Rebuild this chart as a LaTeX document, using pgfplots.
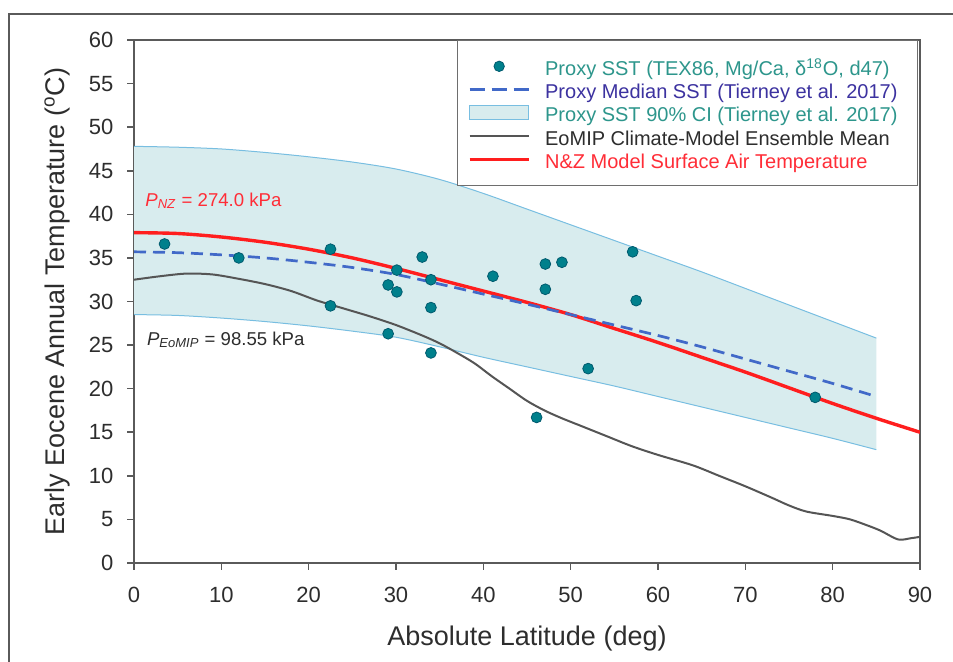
\documentclass[border=0pt]{standalone}
\usepackage{fontspec}
\setmainfont{Liberation Sans}
\usepackage{pgfplots}
\pgfplotsset{compat=1.18}
\usepgfplotslibrary{fillbetween}

\definecolor{nzred}{RGB}{255,30,30}
\definecolor{medblue}{RGB}{65,105,200}
\definecolor{eogray}{RGB}{85,85,85}
\definecolor{bandfill}{RGB}{216,236,238}
\definecolor{bandedge}{RGB}{120,190,225}
\definecolor{dotfill}{RGB}{0,128,140}
\definecolor{dotdraw}{RGB}{0,90,110}
\definecolor{axisgray}{RGB}{90,90,90}
\definecolor{labelgray}{RGB}{45,45,45}
\definecolor{txtteal}{RGB}{45,150,140}
\definecolor{txtblue}{RGB}{60,50,160}
\definecolor{txtgray}{RGB}{45,45,45}
\definecolor{txtred}{RGB}{255,45,55}

\begin{document}
\begin{tikzpicture}
\begin{axis}[
  name=ax, at={(0,0)}, anchor=south west,
  scale only axis, width=393pt, height=261.5pt,
  xmin=0, xmax=90, ymin=0, ymax=60,
  xtick={0,10,...,90}, ytick={0,5,...,60},
  tick align=outside, tick pos=left,
  major tick length=3.5pt,
  every tick/.style={axisgray, line width=0.8pt},
  axis line style={axisgray, line width=1pt},
  /pgf/number format/assume math mode=true,
  ticklabel style={font=\fontsize{11}{13}\selectfont, text=labelgray},
  xticklabel style={yshift=-4.8pt},
  yticklabel style={xshift=-3.3pt},
  xlabel={Absolute Latitude (deg)},
  ylabel={Early Eocene Annual Temperature (\textsuperscript{o}C)},
  xlabel style={at={(axis description cs:0.5,0)}, anchor=base, yshift=-41.5pt, font=\fontsize{13.5}{16}\selectfont, text=labelgray},
  ylabel style={at={(axis description cs:-0.0878,0.5)}, anchor=base, font=\fontsize{13.5}{16}\selectfont, text=labelgray},
  legend cell align=left,
  legend style={at={(axis description cs:0.9975,1)}, anchor=north east,
    draw={rgb,255:red,110;green,110;blue,110}, line width=0.5pt, fill=white,
    font=\fontsize{10}{11.67}\selectfont,
    inner xsep=5.5pt, inner ysep=7.9pt, row sep=1.67pt,
    nodes={inner xsep=0pt, inner ysep=0pt, text height=9.5pt, text depth=0.5pt}},
]
% legend images (order as in reference)
\addlegendimage{legend image code/.code={\draw[dotdraw, fill=dotfill, line width=0.4pt] (14.75pt,0pt) circle (2.6pt); \path (0pt,0pt) (37.5pt,0pt);}}
\addlegendentry{\textcolor{txtteal}{Proxy SST (TEX86, Mg/Ca, δ\textsuperscript{18}O, d47)}}
\addlegendimage{legend image code/.code={\draw[medblue, line width=1.35pt, dash pattern=on 7.5pt off 3.5pt] (0pt,0pt) -- (29.5pt,0pt); \path (37.5pt,0pt);}}
\addlegendentry{\textcolor{txtblue}{Proxy Median SST (Tierney et al. 2017)}\rule{4.5pt}{0pt}}
\addlegendimage{legend image code/.code={\draw[bandedge, fill=bandfill, line width=0.5pt] (0pt,-3.5pt) rectangle (29.5pt,3.5pt); \path (37.5pt,0pt);}}
\addlegendentry{\textcolor{txtteal}{Proxy SST 90\% CI (Tierney et al. 2017)}}
\addlegendimage{legend image code/.code={\draw[eogray, line width=1pt] (0pt,0pt) -- (29.5pt,0pt); \path (37.5pt,0pt);}}
\addlegendentry{\textcolor{txtgray}{EoMIP Climate-Model Ensemble Mean}}
\addlegendimage{legend image code/.code={\draw[nzred, line width=1.65pt] (0pt,0pt) -- (29.5pt,0pt); \path (37.5pt,0pt);}}
\addlegendentry{\textcolor{txtred}{N\&Z Model Surface Air Temperature}}

% 90% CI band (Tierney et al. 2017)
\addplot[name path=upper, bandedge, line width=0.5pt, smooth, forget plot] coordinates {
(0,47.8) (5,47.7) (10,47.5) (15,47.1) (20,46.6) (25,46.0) (30,45.2) (35,44.0)
(40,42.4) (45,40.6) (50,38.8) (55,37.0) (60,35.2) (65,33.4) (70,31.5) (75,29.6)
(80,27.7) (85,25.8)};
\addplot[name path=lower, bandedge, line width=0.5pt, smooth, forget plot] coordinates {
(0,28.5) (5,28.4) (10,28.1) (15,27.7) (20,27.2) (25,26.6) (30,25.9) (35,24.8)
(40,23.6) (45,22.5) (50,21.4) (55,20.3) (60,19.1) (65,17.9) (70,16.7) (75,15.5)
(80,14.3) (85,13.0)};
\addplot[fill=bandfill, draw=none, forget plot] fill between[of=upper and lower];

% EoMIP ensemble mean
\addplot[eogray, line width=1pt, smooth, forget plot] coordinates {
(0,32.5) (3,32.9) (6,33.2) (9,33.1) (12,32.6) (15,32.0) (18,31.2) (21,30.1)
(24,29.2) (27,28.3) (30,27.3) (33,26.1) (35,25.2) (37,24.1) (39,22.9) (41,21.4)
(43,20.0) (45,18.6) (47,17.5) (49,16.6) (51,15.8) (54,14.6) (57,13.4) (60,12.4)
(64,11.2) (67,10.0) (70,8.8) (73,7.5) (75,6.6) (77,5.9) (80,5.4) (82,5.0)
(84,4.3) (85.5,3.7) (87.5,2.7) (89,2.85) (90,3.0)};

% N&Z model
\addplot[nzred, line width=1.7pt, smooth, forget plot] coordinates {
(0,37.9) (5,37.8) (10,37.4) (15,36.8) (20,36.0) (25,35.0) (30,33.8) (35,32.5)
(40,31.2) (45,29.9) (50,28.5) (55,26.9) (60,25.3) (65,23.6) (70,21.9) (75,20.1)
(80,18.3) (85,16.6) (90,15.0)};

% Proxy median SST
\addplot[medblue, line width=1.35pt, dash pattern=on 6pt off 3.5pt, smooth, forget plot] coordinates {
(0,35.7) (5,35.6) (10,35.35) (15,35.0) (20,34.5) (25,33.9) (30,33.1) (35,32.0)
(40,30.85) (45,29.7) (50,28.5) (55,27.3) (60,26.1) (65,24.8) (70,23.4) (75,22.0)
(80,20.6) (85,19.1)};

% Proxy SST points
\addplot[only marks, mark=*, mark size=2.7pt, mark options={fill=dotfill, draw=dotdraw, line width=0.4pt}, forget plot] coordinates {
(3.5,36.6) (12.0,35.0) (22.5,36.0) (22.5,29.5) (29.1,31.9) (29.1,26.3)
(30.1,33.6) (30.1,31.1) (33.0,35.1) (34.0,32.5) (34.0,29.3) (34.0,24.1)
(41.1,32.9) (46.1,16.7) (47.1,34.3) (47.1,31.4) (49.0,34.5) (52.0,22.3)
(57.1,35.7) (57.5,30.1) (78.0,19.0)};

\node[anchor=base west, inner sep=0pt, text=txtred, font=\fontsize{9.3}{11}\selectfont]
  at (axis cs:1.26,40.95) {\textit{P}\textsubscript{\textit{NZ}} = 274.0 kPa};
\node[anchor=base west, inner sep=0pt, text=txtgray, font=\fontsize{9.3}{11}\selectfont]
  at (axis cs:1.45,25.0) {\textit{P}\textsubscript{\textit{EoMIP}} = 98.55 kPa};
\end{axis}
\pgfresetboundingbox
\useasboundingbox (-67pt,-49.5pt) rectangle (409.5pt,281.5pt);
\draw[axisgray, line width=1pt] (-62.25pt,-60pt) -- (-62.25pt,274.5pt) -- (420pt,274.5pt);
\end{tikzpicture}
\end{document}
